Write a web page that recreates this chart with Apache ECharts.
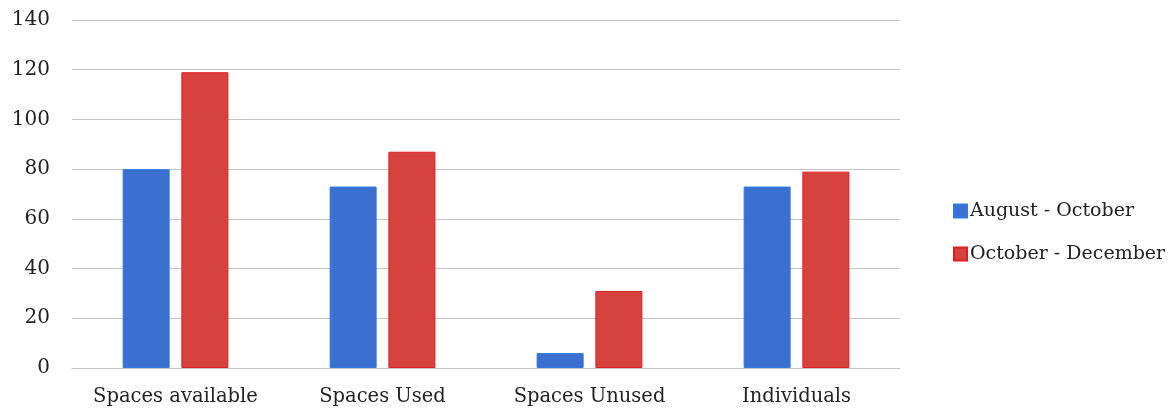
<!DOCTYPE html>
<html>
<head>
<meta charset="utf-8">
<script src="https://cdn.jsdelivr.net/npm/echarts@6/dist/echarts.min.js"></script>
<style>
html,body{margin:0;padding:0;background:#fff;}
#main{width:1176px;height:416px;}
</style>
</head>
<body>
<div id="main"></div>
<script>
// categories and values
var categories = ['Spaces available', 'Spaces Used', 'Spaces Unused', 'Individuals'];
var seriesNames = ['August - October', 'October - December'];
var augOct = [80, 73, 6, 73];
var octDec = [119, 87, 31, 79];
var colors = ['#3b6fd0', '#d6423e'];

var chartDom = document.getElementById('main');
var myChart = echarts.init(chartDom);
var font = 'DejaVu Serif';
var option = {
	animation: false,
	color: colors,
	legend: {
		orient: 'vertical',
		left: 948,
		top: 194,
		itemWidth: 13,
		itemHeight: 13,
		itemGap: 19,
		icon: 'rect',
		textStyle: { fontFamily: font, fontSize: 19, lineHeight: 24, color: '#222', padding: [0, 0, 0, -2] },
		data: seriesNames
	},
	grid: {
		left: 72,
		right: 276,
		top: 20,
		bottom: 48
	},
	xAxis: {
		type: 'category',
		data: categories,
		axisLine: { show: true, lineStyle: { color: '#c4c4c4' } },
		axisTick: { show: false },
		axisLabel: { interval: 0, fontFamily: font, fontSize: 19.5, color: '#222', margin: 19 }
	},
	yAxis: {
		type: 'value',
		min: 0,
		max: 140,
		interval: 20,
		axisLine: { show: false },
		axisTick: { show: false },
		splitLine: { lineStyle: { color: '#c4c4c4' } },
		axisLabel: { fontFamily: font, fontSize: 20, color: '#222', margin: 22 }
	},
	series: [
		{
			name: seriesNames[0],
			type: 'bar',
			barWidth: 47,
			barGap: '25%',
			itemStyle: { color: colors[0], borderColor: '#2f7ae0', borderWidth: 1 },
			data: augOct
		},
		{
			name: seriesNames[1],
			type: 'bar',
			barWidth: 47,
			itemStyle: { color: colors[1], borderColor: '#e01e22', borderWidth: 1 },
			data: octDec
		}
	]
};
myChart.setOption(option);
</script>
</body>
</html>
